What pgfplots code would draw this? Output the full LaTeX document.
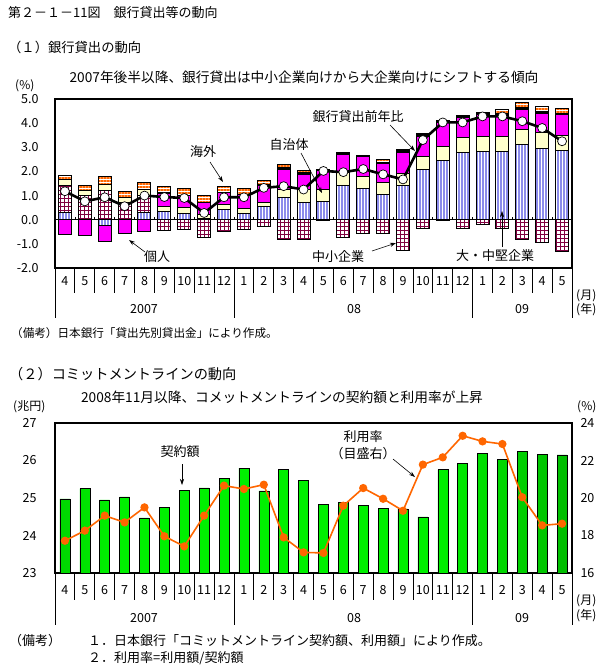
\documentclass[border=0pt]{standalone}
\usepackage{fontspec}
\setmainfont{Noto Sans CJK JP}
\usepackage{pgfplots}
\usepackage{pgfplotstable}
\pgfplotsset{compat=1.18}
\usetikzlibrary{patterns.meta,arrows.meta}

\definecolor{magB}{RGB}{255,0,255}
\definecolor{yelB}{RGB}{255,255,204}
\definecolor{stripeB}{RGB}{140,140,235}
\definecolor{gridB}{RGB}{128,0,64}
\definecolor{orgB}{RGB}{255,102,0}
\definecolor{grnD}{RGB}{0,90,0}
\definecolor{grnL}{RGB}{0,240,0}
\definecolor{lineO}{RGB}{255,102,0}
\pgfdeclarehorizontalshading{gbar}{100bp}{color(0bp)=(grnD); color(30bp)=(grnL); color(62bp)=(grnL); color(100bp)=(grnD)}

\newcommand{\fs}[1]{\fontsize{#1bp}{#1bp}\selectfont}

% Panel 1: positive parts of the contributions (percentage points)
\pgfplotstableread{
x blue grid yel mag blk org
0 0.30 1.10 0.25 0 0 0.17
1 0.02 0.98 0.22 0 0 0.20
2 0 1.20 0.27 0 0 0.33
3 0 0.70 0.20 0 0 0.25
4 0.28 0.72 0.24 0 0 0.30
5 0.32 0 0.22 0.54 0.03 0.27
6 0.25 0 0.24 0.52 0 0.28
7 0.05 0 0.15 0.52 0 0.27
8 0.42 0 0.20 0.50 0 0.27
9 0.25 0 0.20 0.58 0 0.25
10 0.56 0 0.16 0.70 0.04 0.15
11 0.92 0 0.35 0.83 0.05 0.12
12 0.72 0 0.55 0.62 0.05 0.10
13 0.74 0 0.50 0.80 0.06 0
14 1.42 0 0.52 0.76 0.07 0
15 1.28 0 0.50 0.82 0.08 0
16 1.05 0 0.48 0.80 0.05 0.10
17 1.42 0 0.50 0.85 0.12 0
18 2.08 0 0.53 0.85 0.10 0
19 2.45 0 0.60 0.98 0.08 0
20 2.80 0 0.60 0.85 0.08 0
21 2.82 0 0.62 0.92 0.08 0
22 2.82 0 0.62 0.88 0.08 0.18
23 3.10 0 0.62 0.85 0.07 0.22
24 2.95 0 0.65 0.82 0.08 0.20
25 2.87 0 0.62 0.85 0.06 0.20
}\tabpos

% Panel 1: negative parts
\pgfplotstableread{
x blue grid mag
0 0 0 -0.63
1 0 0 -0.67
2 -0.25 0 -0.65
3 0 0 -0.58
4 0 0 -0.49
5 0 -0.44 0
6 0 -0.39 0
7 0 -0.72 0
8 0 -0.48 0
9 0 -0.39 0
10 0 -0.30 0
11 0 -0.83 0
12 0 -0.83 0
13 0 -0.04 0
14 0 -0.75 0
15 0 -0.58 0
16 0 -0.56 0
17 0 -1.28 0
18 0 -0.35 0
19 0 -0.05 0
20 0 -0.35 0
21 0 -0.20 0
22 0 -0.35 0
23 0 -0.81 0
24 0 -0.94 0
25 0 -1.32 0
}\tabneg

% Panel 1: bank lending, year-on-year (%)
\pgfplotstableread{
x line
0 1.18
1 0.76
2 0.93
3 0.56
4 1.00
5 0.94
6 0.90
7 0.28
8 0.93
9 0.93
10 1.32
11 1.39
12 1.25
13 2.02
14 1.97
15 2.10
16 1.88
17 1.67
18 3.30
19 4.03
20 4.03
21 4.28
22 4.28
23 4.08
24 3.80
25 3.25
}\tabline

% Panel 2: commitment line amount (trillion yen) and usage rate (%)
\pgfplotstableread{
x amount rate
0 24.98 17.72
1 25.25 18.26
2 24.95 19.06
3 25.03 18.70
4 24.47 19.50
5 24.76 17.96
6 25.21 17.42
7 25.27 19.06
8 25.53 20.66
9 25.80 20.48
10 25.19 20.71
11 25.77 17.90
12 25.48 17.10
13 24.84 17.07
14 24.89 19.59
15 24.81 20.53
16 24.73 19.96
17 24.71 19.32
18 24.50 21.78
19 25.76 22.17
20 25.93 23.32
21 26.20 23.02
22 26.04 22.88
23 26.24 20.04
24 26.17 18.54
25 26.15 18.63
}\tabcl

\pgfplotsset{
  base/.style={
    scale only axis, width=517bp,
    xmin=-0.5, xmax=25.5,
    xtick={0,...,25},
    xticklabels={4,5,6,7,8,9,10,11,12,1,2,3,4,5,6,7,8,9,10,11,12,1,2,3,4,5},
    xtick style={draw=none}, ytick style={draw=none},
    ticklabel style={font=\fs{12.5}},
    xticklabel style={anchor=base, yshift=-17bp},
    /pgf/number format/assume math mode=true,
  },
  ghost/.style={base, hide axis},
}
\tikzset{ann/.style={-{Stealth[length=6bp,width=4bp]}, line width=0.6bp}}
\def\cw{19.8846}

\begin{document}
\begin{tikzpicture}
\useasboundingbox (0bp,0bp) rectangle (608bp,-670bp);

% ---------- texts ----------
\node[anchor=base west, inner sep=0pt, font=\fs{13}] at (8bp,-17bp) {第２－１－11図　銀行貸出等の動向};
\node[anchor=base west, inner sep=0pt, font=\fs{13.3}] at (8bp,-52bp) {（１）銀行貸出の動向};
\node[anchor=base, inner sep=0pt, font=\fs{13.7}] at (304bp,-82bp) {2007年後半以降、銀行貸出は中小企業向けから大企業向けにシフトする傾向};
\node[anchor=base west, inner sep=0pt, font=\fs{12}] at (15bp,-89bp) {(\%)};

% separators under panel 1 and small ticks on the zero line
\foreach \i in {1,...,25} {
  \draw[line width=0.8bp] (55bp+\i*\cw bp,-268bp) -- ++(0,-25bp);
  \draw[line width=0.7bp] (55bp+\i*\cw bp,-219.7bp) -- ++(0,3bp);
}
\foreach \i in {0,9,21,26} {
  \draw[line width=0.8bp] (55bp+\i*\cw bp,-268bp) -- ++(0,-50bp);
}
\draw[line width=0.7bp] (55bp,-219.7bp) -- (572bp,-219.7bp);

% ---------- Panel 1 ----------
\begin{axis}[base,
  at={(55bp,-268bp)}, anchor=south west, height=169bp,
  ymin=-2, ymax=5, ytick={-2,-1,...,5},
  yticklabel style={anchor=east, xshift=-13bp, /pgf/number format/.cd, fixed, fixed zerofill, precision=1},
  axis line style={line width=2.2bp},
  ybar stacked, bar width=13bp,
  every axis plot/.append style={draw=black, line width=1bp},
]
\addplot[pattern={Lines[angle=90,distance=3bp,line width=1.4bp]}, pattern color=stripeB] table[x=x,y=blue]{\tabpos};
\addplot[pattern={Hatch[angle=0,distance=4bp,line width=0.9bp]}, pattern color=gridB] table[x=x,y=grid]{\tabpos};
\addplot[fill=yelB] table[x=x,y=yel]{\tabpos};
\addplot[fill=magB] table[x=x,y=mag]{\tabpos};
\addplot[fill=black] table[x=x,y=blk]{\tabpos};
\addplot[pattern={Lines[angle=0,distance=3bp,line width=1.3bp]}, pattern color=orgB] table[x=x,y=org]{\tabpos};
\end{axis}

\begin{axis}[ghost,
  at={(55bp,-268bp)}, anchor=south west, height=169bp,
  ymin=-2, ymax=5,
  ybar stacked, bar width=13bp,
  every axis plot/.append style={draw=black, line width=1bp},
]
\addplot[pattern={Lines[angle=90,distance=3bp,line width=1.4bp]}, pattern color=stripeB] table[x=x,y=blue]{\tabneg};
\addplot[pattern={Hatch[angle=0,distance=4bp,line width=0.9bp]}, pattern color=gridB] table[x=x,y=grid]{\tabneg};
\addplot[fill=magB] table[x=x,y=mag]{\tabneg};
\end{axis}

\begin{axis}[ghost,
  at={(55bp,-268bp)}, anchor=south west, height=169bp,
  ymin=-2, ymax=5, clip=false,
]
\addplot[black, line width=2.6bp, mark=*, mark size=4.5bp,
  mark options={fill=white, draw=black, line width=0.7bp}] table[x=x,y=line]{\tabline};
\end{axis}

% year labels panel 1
\node[anchor=base, font=\fs{12.5}, inner sep=0pt] at (144bp,-313bp) {2007};
\node[anchor=base, font=\fs{12.5}, inner sep=0pt] at (354bp,-313bp) {08};
\node[anchor=base, font=\fs{12.5}, inner sep=0pt] at (522bp,-313bp) {09};
\node[anchor=base west, font=\fs{12}, inner sep=0pt] at (576bp,-299bp) {(月)};
\node[anchor=base west, font=\fs{12}, inner sep=0pt] at (576bp,-313bp) {(年)};

% annotations panel 1
\node[font=\fs{13}, inner sep=0pt] at (203bp,-152bp) {海外};
\draw[ann] (210bp,-162bp) -- (223bp,-182bp);
\node[font=\fs{13}, inner sep=0pt] at (289bp,-145bp) {自治体};
\draw[ann] (301bp,-153bp) -- (322bp,-193bp);
\node[font=\fs{13}, inner sep=0pt] at (358bp,-117bp) {銀行貸出前年比};
\draw[ann] (390bp,-125bp) -- (415bp,-151bp);
\node[font=\fs{13}, inner sep=0pt] at (157bp,-257bp) {個人};
\draw[ann] (145bp,-252bp) -- (129bp,-240bp);
\node[font=\fs{13}, inner sep=0pt] at (338bp,-257bp) {中小企業};
\draw[ann] (372bp,-251bp) -- (396bp,-243bp);
\node[font=\fs{13}, inner sep=0pt] at (495bp,-256bp) {大・中堅企業};
\draw[ann] (502bp,-247bp) -- (502bp,-211bp);

\node[anchor=base west, inner sep=0pt, font=\fs{11.6}] at (11bp,-337bp) {（備考）日本銀行「貸出先別貸出金」により作成。};

% ---------- Panel 2 ----------
\node[anchor=base west, inner sep=0pt, font=\fs{14.2}] at (9bp,-379bp) {（２）コミットメントラインの動向};
\node[anchor=base, inner sep=0pt, font=\fs{13.7}] at (282bp,-402bp) {2008年11月以降、コメットメントラインの契約額と利用率が上昇};
\node[anchor=base west, inner sep=0pt, font=\fs{12}] at (13bp,-410bp) {(兆円)};
\node[anchor=base west, inner sep=0pt, font=\fs{12}] at (577bp,-410bp) {(\%)};

\foreach \i in {1,...,25} {
  \draw[line width=0.8bp] (55bp+\i*\cw bp,-573bp) -- ++(0,-27bp);
}
\foreach \i in {0,9,21,26} {
  \draw[line width=0.8bp] (55bp+\i*\cw bp,-573bp) -- ++(0,-52bp);
}

\begin{axis}[base,
  at={(55bp,-573bp)}, anchor=south west, height=150bp,
  ymin=23, ymax=27, ytick={23,...,27},
  yticklabel style={anchor=east, xshift=-15bp},
  axis line style={line width=2bp},
  ybar, bar width=10bp,
]
\addplot[draw=black, line width=0.5bp, shading=gbar] table[x=x,y=amount]{\tabcl};
\end{axis}
\begin{axis}[base,
  at={(55bp,-573bp)}, anchor=south west, height=150bp,
  ymin=16, ymax=24, ytick={16,18,...,24},
  axis y line*=right, axis x line=none, axis line style={draw=none},
  yticklabel style={anchor=west, xshift=5bp},
  xticklabels={},
]
\addplot[lineO, line width=1.6bp, mark=*, mark size=3.3bp] table[x=x,y=rate]{\tabcl};
\end{axis}

\node[anchor=base, font=\fs{12.5}, inner sep=0pt] at (144bp,-622bp) {2007};
\node[anchor=base, font=\fs{12.5}, inner sep=0pt] at (354bp,-622bp) {08};
\node[anchor=base, font=\fs{12.5}, inner sep=0pt] at (522bp,-622bp) {09};
\node[anchor=base west, font=\fs{12}, inner sep=0pt] at (576bp,-604bp) {(月)};
\node[anchor=base west, font=\fs{12}, inner sep=0pt] at (576bp,-619bp) {(年)};

\node[font=\fs{13}, inner sep=0pt] at (180bp,-452bp) {契約額};
\draw[ann] (182bp,-464bp) -- (182bp,-485bp);
\node[font=\fs{13}, inner sep=0pt] at (363bp,-437bp) {利用率};
\node[font=\fs{13}, inner sep=0pt] at (363bp,-454bp) {（目盛右）};
\draw[ann] (393bp,-459bp) -- (415bp,-477bp);

\node[anchor=base west, inner sep=0pt, font=\fs{13}] at (9bp,-645bp) {（備考）};
\node[anchor=base west, inner sep=0pt, font=\fs{13}] at (88bp,-645bp) {１．日本銀行「コミットメントライン契約額、利用額」により作成。};
\node[anchor=base west, inner sep=0pt, font=\fs{13}] at (88bp,-662bp) {２．利用率=利用額/契約額};
\end{tikzpicture}
\end{document}
